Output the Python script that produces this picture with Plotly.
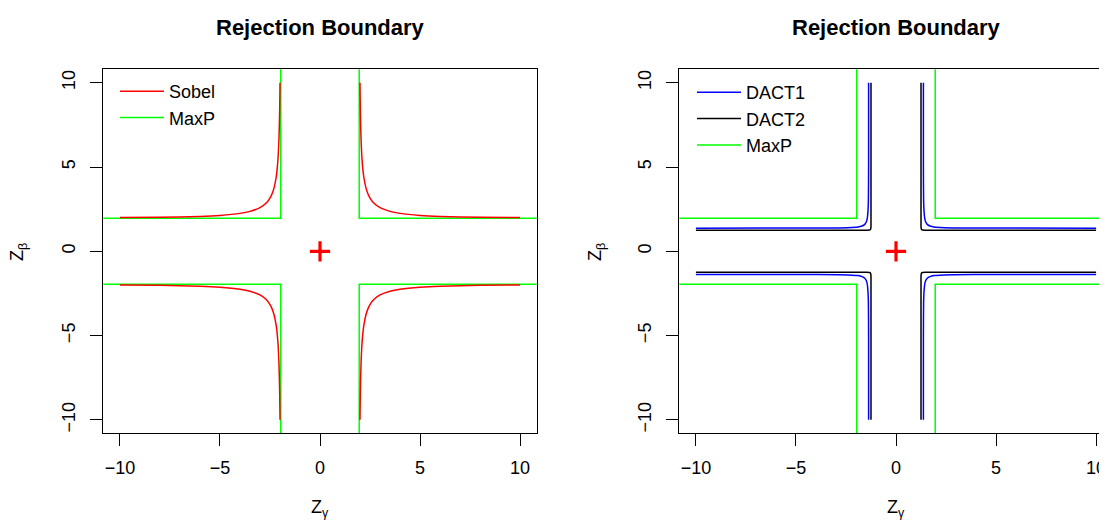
import plotly.graph_objects as go

# ---------------- data ----------------
axis_ticks = [-10, -5, 0, 5, 10]

# Sobel boundary, first quadrant (Z_gamma, Z_beta); other quadrants by sign symmetry
sobel_zg = [1.999, 2.00, 2.01, 2.02, 2.05, 2.10, 2.15, 2.20, 2.30, 2.40, 2.50, 2.70, 3.00, 3.50, 4.00, 5.00, 6.00, 8.00, 10.0]
sobel_zb = [10.0, 9.85, 8.84, 8.10, 6.69, 5.46, 4.77, 4.32, 3.75, 3.40, 3.16, 2.85, 2.59, 2.37, 2.25, 2.13, 2.07, 2.02, 2.00]

# DACT1 boundary, first quadrant
dact1_zg = [1.37, 1.37, 1.38, 1.40, 1.43, 1.48, 1.56, 1.70, 1.90, 2.40, 4.00, 10.0]
dact1_zb = [10.0, 5.00, 3.00, 2.40, 2.00, 1.75, 1.60, 1.50, 1.44, 1.40, 1.38, 1.37]

# DACT2 boundary, first quadrant
dact2_zg = [1.25, 1.25, 1.26, 1.28, 1.32, 1.50, 10.0]
dact2_zb = [10.0, 1.50, 1.35, 1.29, 1.26, 1.25, 1.25]

# MaxP boundary: |Z| > 1.96 in both directions (lines run to the plot edges)
maxp_cut = 1.96
maxp_edge = 15.0

quadrant_signs = [(1, 1), (-1, 1), (-1, -1), (1, -1)]

FONT = "Liberation Sans, Arial, Helvetica, sans-serif"

# page has an 8px body margin; figure sized so that it fills the window
OFF = 8
W, H = 1107 - OFF, 521 - OFF


def px(x):
    return (x - OFF) / W


def py(y):
    return (H - (y - OFF)) / H


def four_quadrants(xs, ys):
    X, Y = [], []
    for sx, sy in quadrant_signs:
        X += [sx * v for v in xs] + [None]
        Y += [sy * v for v in ys] + [None]
    return X, Y


fig = go.Figure()

mx, my = four_quadrants([maxp_edge, maxp_cut, maxp_cut], [maxp_cut, maxp_cut, maxp_edge])

# ---- left panel ----
fig.add_trace(go.Scatter(x=mx, y=my, mode="lines", name="MaxP",
                         line=dict(color="#00ff00", width=1.5),
                         xaxis="x", yaxis="y", legend="legend", legendrank=2))
sx_, sy_ = four_quadrants(sobel_zg, sobel_zb)
fig.add_trace(go.Scatter(x=sx_, y=sy_, mode="lines", name="Sobel",
                         line=dict(color="#ff0000", width=1.5, shape="spline", smoothing=0.6),
                         xaxis="x", yaxis="y", legend="legend", legendrank=1))
fig.add_trace(go.Scatter(x=[0], y=[0], mode="markers", showlegend=False,
                         marker=dict(symbol="cross-thin", size=14.5,
                                     line=dict(color="#ff0000", width=3.2)),
                         xaxis="x", yaxis="y"))

# ---- right panel ----
fig.add_trace(go.Scatter(x=mx, y=my, mode="lines", name="MaxP",
                         line=dict(color="#00ff00", width=1.5),
                         xaxis="x2", yaxis="y2", legend="legend2", legendrank=3))
d1x, d1y = four_quadrants(dact1_zg, dact1_zb)
fig.add_trace(go.Scatter(x=d1x, y=d1y, mode="lines", name="DACT1",
                         line=dict(color="#0000ff", width=1.5, shape="spline", smoothing=0.6),
                         xaxis="x2", yaxis="y2", legend="legend2", legendrank=1))
d2x, d2y = four_quadrants(dact2_zg, dact2_zb)
fig.add_trace(go.Scatter(x=d2x, y=d2y, mode="lines", name="DACT2",
                         line=dict(color="#000000", width=1.5, shape="spline", smoothing=0.4),
                         xaxis="x2", yaxis="y2", legend="legend2", legendrank=2))
fig.add_trace(go.Scatter(x=[0], y=[0], mode="markers", showlegend=False,
                         marker=dict(symbol="cross-thin", size=14.5,
                                     line=dict(color="#ff0000", width=3.2)),
                         xaxis="x2", yaxis="y2"))

y_dom = [py(433.3), py(69.3)]
left_dom = [px(103.3), px(536.7)]
right_dom = [px(679.3), 1.0]
px_per_unit = (536.7 - 103.3) / 21.66

common_x = dict(showgrid=False, zeroline=False, showline=True, linecolor="black", linewidth=1,
                ticks="outside", ticklen=12, tickwidth=1, tickcolor="black",
                tickvals=axis_ticks, ticklabelstandoff=6,
                tickfont=dict(family=FONT, size=18, color="black"))
common_y = dict(common_x)
common_y.update(tickangle=-90, ticklabelstandoff=8)

fig.update_layout(
    width=W, height=H, margin=dict(l=0, r=0, t=0, b=0),
    paper_bgcolor="white", plot_bgcolor="white",
    font=dict(family=FONT, size=18, color="black"),
    xaxis=dict(common_x, domain=left_dom, range=[-10.83, 10.83], mirror=True, anchor="y"),
    yaxis=dict(common_y, domain=y_dom, range=[-10.8, 10.8], mirror=True, anchor="x"),
    xaxis2=dict(common_x, domain=right_dom,
                range=[-10.83, -10.83 + (1107 - 679.3) / px_per_unit], mirror=True, anchor="y2"),
    yaxis2=dict(common_y, domain=y_dom, range=[-10.8, 10.8], mirror=False, anchor="x2"),
    legend=dict(x=px(115), y=py(73), xanchor="left", yanchor="top",
                bgcolor="rgba(0,0,0,0)", borderwidth=0, tracegroupgap=0,
                font=dict(family=FONT, size=18, color="black"), itemwidth=44),
    legend2=dict(x=px(692), y=py(74), xanchor="left", yanchor="top",
                 bgcolor="rgba(0,0,0,0)", borderwidth=0, tracegroupgap=0,
                 font=dict(family=FONT, size=18, color="black"), itemwidth=44),
    showlegend=True,
)

titles = [
    dict(text="<b>Rejection Boundary</b>", x=px(320), y=py(27), size=22, angle=0),
    dict(text="<b>Rejection Boundary</b>", x=px(896), y=py(27), size=22, angle=0),
    dict(text="Z<sub>γ</sub>", x=px(320), y=py(508), size=18, angle=0),
    dict(text="Z<sub>γ</sub>", x=px(896), y=py(508), size=18, angle=0),
    dict(text="Z<sub>β</sub>", x=px(18), y=py(252), size=18, angle=-90),
    dict(text="Z<sub>β</sub>", x=px(596), y=py(252), size=18, angle=-90),
]
for t in titles:
    fig.add_annotation(text=t["text"], x=t["x"], y=t["y"], xref="paper", yref="paper",
                       xanchor="center", yanchor="middle", showarrow=False,
                       textangle=t["angle"],
                       font=dict(family=FONT, size=t["size"], color="black"))

fig.write_html("out.html")
